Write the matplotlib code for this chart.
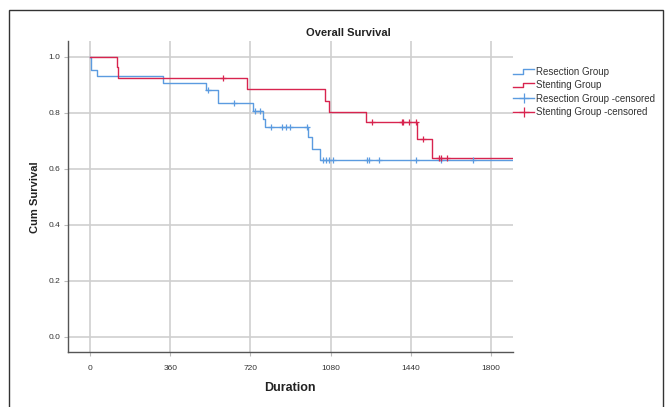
import matplotlib
matplotlib.use("Agg")
import matplotlib.pyplot as plt
from matplotlib.lines import Line2D
from matplotlib.legend_handler import HandlerBase
from matplotlib.patches import Rectangle

plt.rcParams['font.family'] = ['Liberation Sans', 'DejaVu Sans']

# ---- data ----
resection_times = [0, 3, 28, 325, 520, 574, 730, 776, 785, 979, 995, 1033]
resection_surv = [1.0, 0.954, 0.932, 0.906, 0.882, 0.836, 0.807, 0.780, 0.751, 0.715, 0.670, 0.633]
resection_end = 1905
resection_cens_t = [529, 646, 740, 763, 812, 860, 880, 898, 973, 1046, 1060, 1072, 1093,
                    1243, 1253, 1298, 1463, 1577, 1720]

stenting_times = [0, 118, 125, 706, 1055, 1075, 1238, 1468, 1535]
stenting_surv = [1.0, 0.965, 0.924, 0.885, 0.844, 0.803, 0.766, 0.706, 0.640]
stenting_end = 1905
stenting_cens_t = [598, 1265, 1400, 1408, 1435, 1463, 1498, 1570, 1577, 1604]

x_ticks = [0, 360, 720, 1080, 1440, 1800]
y_ticks = [0.0, 0.2, 0.4, 0.6, 0.8, 1.0]

blue = '#5b9be0'
red = '#d8244f'


def surv_at(times, surv, t):
    s = surv[0]
    for ti, si in zip(times, surv):
        if ti <= t:
            s = si
    return s


fig = plt.figure(figsize=(6.67, 4.07), dpi=100)
ax = fig.add_axes([68 / 667, 1 - 352 / 407, 445 / 667, 311 / 407])

# outer frame
fig.patches.append(Rectangle((9 / 667, -0.1), 654 / 667, 1 - 10 / 407 + 0.1,
                             transform=fig.transFigure, fill=False,
                             edgecolor='#333333', lw=1.0))

ax.set_xlim(-101, 1901)
ax.set_ylim(-0.054, 1.057)
ax.set_xticks(x_ticks)
ax.set_yticks(y_ticks)
ax.set_xticklabels([str(v) for v in x_ticks])
ax.set_yticklabels(['%.1f' % v for v in y_ticks])
ax.grid(True, color='#cfcfcf', lw=1.2)
ax.set_axisbelow(True)
for s in ['top', 'right']:
    ax.spines[s].set_visible(False)
for s in ['left', 'bottom']:
    ax.spines[s].set_color('#555555')
    ax.spines[s].set_linewidth(1.0)
ax.tick_params(axis='both', labelsize=6, length=3, color='#bbbbbb', colors='#333333')
ax.tick_params(axis='y', pad=2.5)
ax.tick_params(axis='x', pad=6.0)

# curves
ax.step(resection_times + [resection_end], resection_surv + [resection_surv[-1]],
        where='post', color=blue, lw=1.0)
ax.step(stenting_times + [stenting_end], stenting_surv + [stenting_surv[-1]],
        where='post', color=red, lw=1.0)
ax.plot(resection_cens_t, [surv_at(resection_times, resection_surv, t) for t in resection_cens_t],
        ls='none', marker='+', color=blue, ms=5, mew=0.9)
ax.plot(stenting_cens_t, [surv_at(stenting_times, stenting_surv, t) for t in stenting_cens_t],
        ls='none', marker='+', color=red, ms=5, mew=0.9)


class HandlerStep(HandlerBase):
    def create_artists(self, legend, orig_handle, xdescent, ydescent, width, height, fontsize, trans):
        h = height
        xs = [-xdescent, -xdescent + width * 0.45, -xdescent + width * 0.45, -xdescent + width]
        ys = [h * 0.15 - ydescent, h * 0.15 - ydescent, h * 0.85 - ydescent, h * 0.85 - ydescent]
        ln = Line2D(xs, ys, color=orig_handle.get_color(), lw=1.0)
        ln.set_transform(trans)
        return [ln]


class StepHandle(Line2D):
    pass


h1 = StepHandle([], [], color=blue)
h2 = StepHandle([], [], color=red)
h3 = Line2D([], [], color=blue, lw=1.0, marker='+', ms=7, mew=0.9)
h4 = Line2D([], [], color=red, lw=1.0, marker='+', ms=7, mew=0.9)
fig.legend([h1, h2, h3, h4],
           ['Resection Group', 'Stenting Group', 'Resection Group -censored', 'Stenting Group -censored'],
           handler_map={StepHandle: HandlerStep()},
           loc='upper left', bbox_to_anchor=(513 / 667, 1 - 67 / 407),
           frameon=False, fontsize=7, handlelength=2.2, handletextpad=0.2,
           labelspacing=0.35, borderaxespad=0, borderpad=0, labelcolor='#333333')

fig.text(348 / 667, 1 - 33 / 407, 'Overall Survival', ha='center', va='center',
         fontsize=8, fontweight='bold', color='#222222')
fig.text(35 / 667, 1 - 197 / 407, 'Cum Survival', ha='center', va='center', rotation=90,
         fontsize=8, fontweight='bold', color='#222222')
fig.text(290 / 667, 1 - 388 / 407, 'Duration', ha='center', va='center',
         fontsize=9, fontweight='bold', color='#222222')

fig.savefig('out.png', dpi=100)
